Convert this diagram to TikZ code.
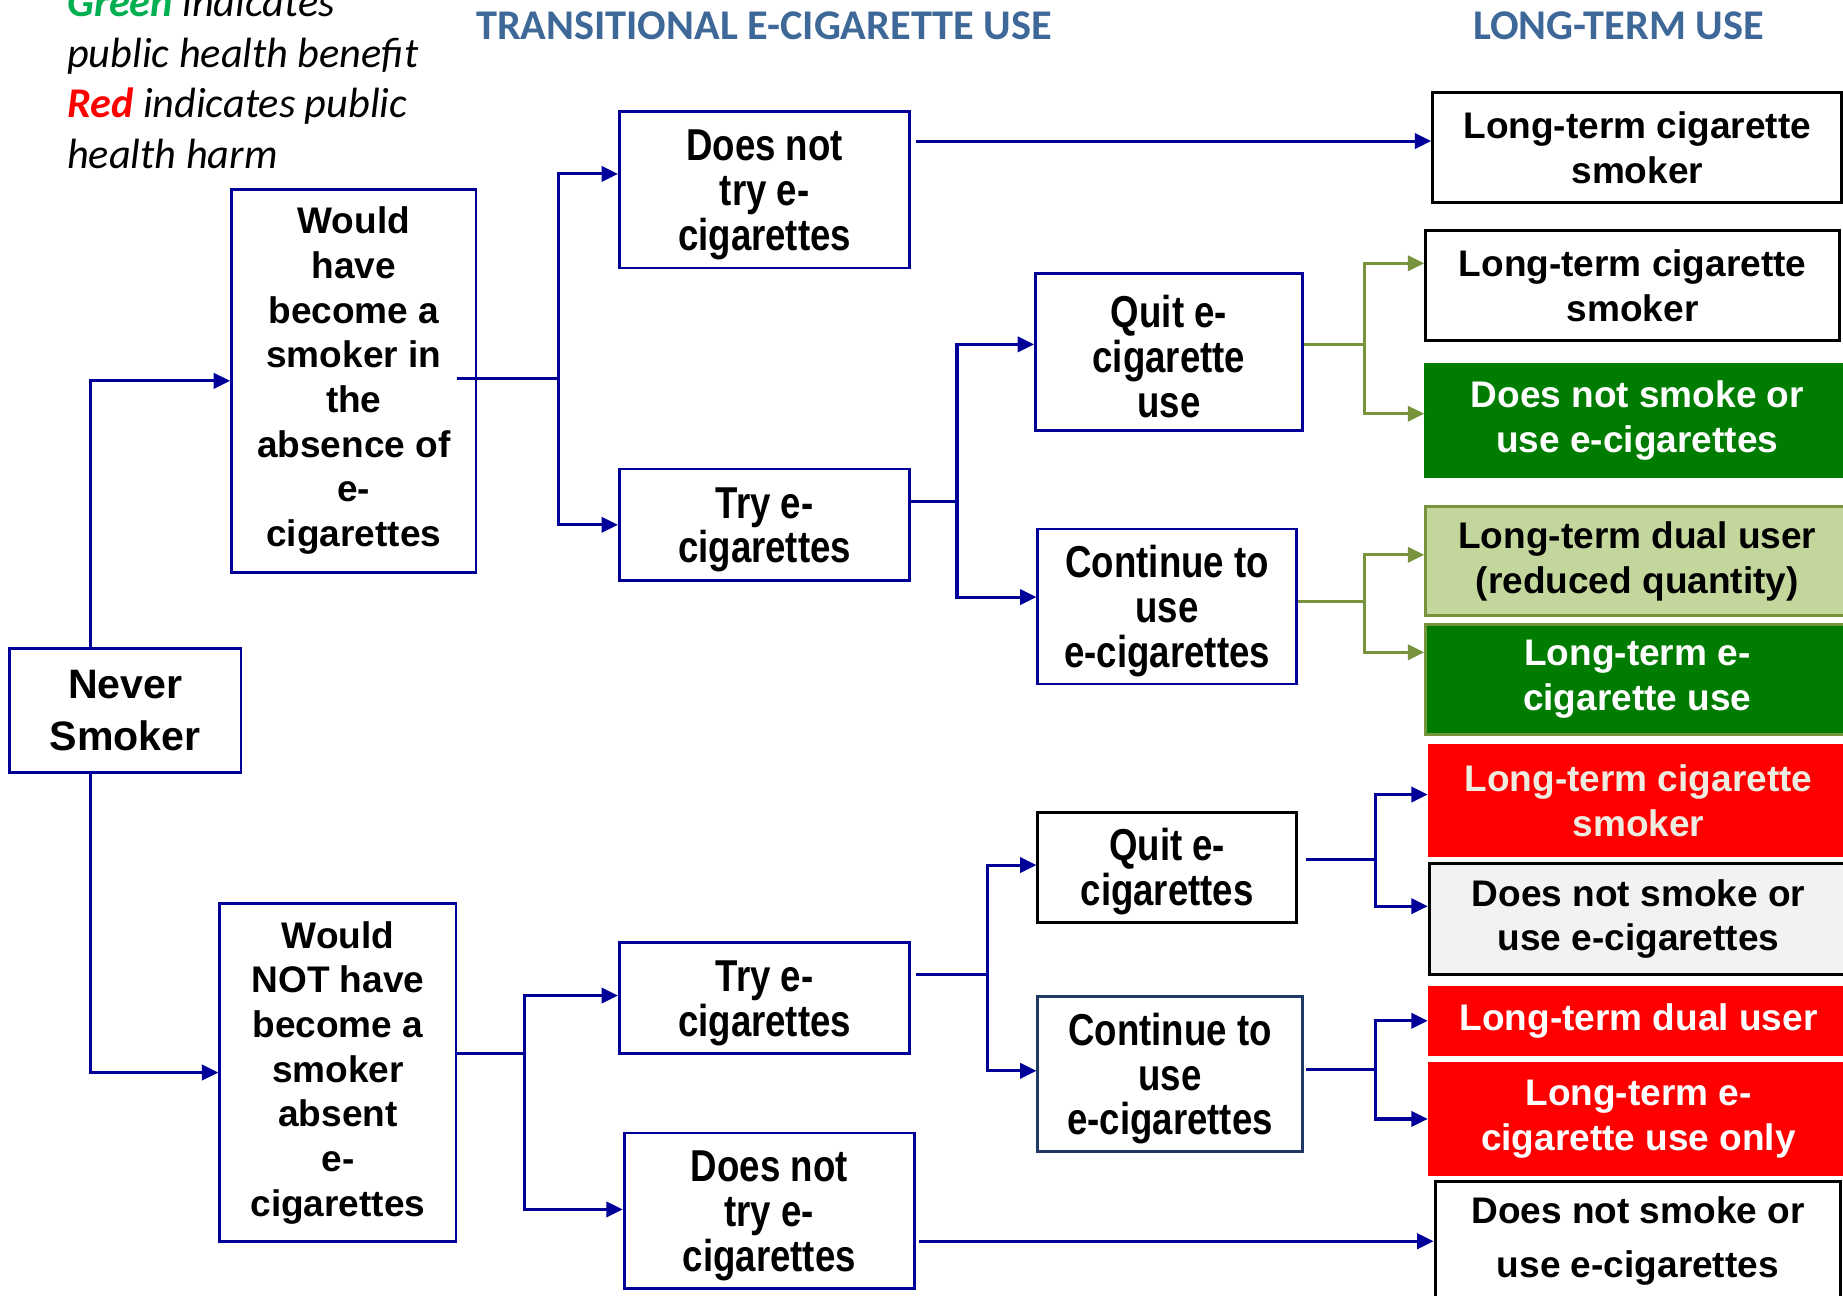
\documentclass[tikz,border=0pt]{standalone}
\usepackage{fontspec}
\setmainfont{Liberation Sans}
\newfontfamily\calibri{Carlito}
\newfontfamily\narrowsans[FakeStretch=0.82]{Liberation Sans}
\usetikzlibrary{arrows.meta, positioning}

\definecolor{linkblue}{RGB}{0,0,153}
\definecolor{olivelink}{RGB}{119,147,60}
\definecolor{benefitgreen}{RGB}{0,125,0}
\definecolor{lightolive}{RGB}{195,214,155}
\definecolor{harmred}{RGB}{255,0,0}
\definecolor{creamtext}{RGB}{238,236,225}
\definecolor{palegray}{RGB}{242,242,242}
\definecolor{headblue}{RGB}{62,104,152}
\definecolor{keygreen}{RGB}{0,176,80}
\definecolor{slateline}{RGB}{31,56,100}

% taller first line, pushes the narrow text a little down
\newcommand{\topgap}{\rule{0pt}{35pt}}

\begin{document}
\begin{tikzpicture}[
x=1pt, y=-1pt,
bluebox/.style={rectangle, draw=linkblue, line width=2.4pt, fill=white, inner sep=0pt, align=center, font=\bfseries\fontsize{31.5}{38}\selectfont},
narrowbox/.style={bluebox, font=\narrowsans\bfseries\fontsize{38}{38}\selectfont},
endbox/.style={rectangle, draw=black, line width=2.6pt, fill=white, inner sep=0pt, align=center, font=\bfseries\fontsize{31.5}{38}\selectfont},
goodbox/.style={endbox, draw=benefitgreen, fill=benefitgreen, text=white},
mixbox/.style={endbox, draw=olivelink, fill=lightolive},
harmbox/.style={endbox, draw=harmred, fill=harmred, text=white},
headtext/.style={font=\calibri\bfseries\fontsize{36}{40}\selectfont, text=headblue, inner sep=0pt},
keytext/.style={font=\calibri\itshape\fontsize{36}{43}\selectfont, align=left, inner sep=0pt},
navyarrow/.style={draw=linkblue, line width=2.6pt, -{Triangle[length=14pt,width=13pt]}},
olivearrow/.style={navyarrow, draw=olivelink, -{Triangle[length=14pt,width=13pt,fill=olivelink]}},
]
\useasboundingbox (0,0) rectangle (1568,1102);

%Headings
\node[keytext, anchor=west] (key) at (57,66.5) {\textbf{\color{keygreen}Green} indicates\\public health benefit\\\textbf{\color{harmred}Red} indicates public\\health harm};
\node[headtext] (transhead) at (650,22) {TRANSITIONAL E-CIGARETTE USE};
\node[headtext] (longhead) at (1377,22) {LONG-TERM USE};

%Nodes
\node[bluebox, minimum width=197pt, minimum height=105pt, font=\bfseries\fontsize{35}{44}\selectfont] (never) at (106.5,604.5) {Never\\Smoker};
\node[bluebox, minimum width=208pt, minimum height=326pt] (wouldhave) at (301,324) {Would\\have\\become a\\smoker in\\the\\absence of\\e-\\cigarettes};
\node[bluebox, minimum width=201pt, minimum height=287pt] (wouldnot) at (287.5,912.5) {Would\\NOT have\\become a\\smoker\\absent\\e-\\cigarettes};

\node[narrowbox, minimum width=247pt, minimum height=133pt] (notrytop) at (650.5,161.5) {\topgap Does not\\try e-\\cigarettes};
\node[narrowbox, minimum width=247pt, minimum height=95pt] (trytop) at (650.5,446.5) {\topgap Try e-\\cigarettes};
\node[narrowbox, minimum width=227pt, minimum height=133pt] (quittop) at (994.5,299.5) {\topgap Quit e-\\cigarette\\use};
\node[narrowbox, minimum width=220pt, minimum height=132pt] (conttop) at (993,516) {\topgap Continue to\\use\\e-cigarettes};

\node[narrowbox, minimum width=247pt, minimum height=94pt] (trybot) at (650.5,849) {\topgap Try e-\\cigarettes};
\node[narrowbox, minimum width=247pt, minimum height=132pt] (notrybot) at (654.5,1030) {\topgap Does not\\try e-\\cigarettes};
\node[narrowbox, draw=black, minimum width=220pt, minimum height=94pt] (quitbot) at (993,738) {\topgap Quit e-\\cigarettes};
\node[narrowbox, draw=slateline, minimum width=225pt, minimum height=132pt] (contbot) at (995.5,914) {\topgap Continue to\\use\\e-cigarettes};

\node[endbox, minimum width=348pt, minimum height=93pt] (smokerA) at (1393,125.5) {Long-term cigarette\\smoker};
\node[endbox, minimum width=352pt, minimum height=94pt] (smokerB) at (1389,243) {Long-term cigarette\\smoker};
\node[goodbox, minimum width=360pt, minimum height=95pt] (quitallA) at (1393,357.5) {Does not smoke or\\use e-cigarettes};
\node[mixbox, minimum width=360pt, minimum height=93pt] (dualA) at (1393,477.5) {Long-term dual user\\(reduced quantity)};
\node[goodbox, draw=olivelink, minimum width=360pt, minimum height=94pt] (ecigA) at (1393,578) {Long-term e-\\cigarette use};
\node[harmbox, text=creamtext, minimum width=356pt, minimum height=94pt] (smokerC) at (1394,681) {Long-term cigarette\\smoker};
\node[endbox, fill=palegray, minimum width=356pt, minimum height=94pt] (quitallB) at (1394,782) {Does not smoke or\\use e-cigarettes};
\node[harmbox, minimum width=356pt, minimum height=57pt] (dualB) at (1394,868.5) {Long-term dual user};
\node[harmbox, minimum width=356pt, minimum height=94pt] (ecigB) at (1394,952) {Long-term e-\\cigarette use only};
\node[endbox, minimum width=345pt, minimum height=102pt, font=\bfseries\fontsize{31.5}{46}\selectfont] (quitallC) at (1393.5,1056) {Does not smoke or\\use e-cigarettes};

%Lines
\draw[navyarrow] ([xshift=-29.5pt]never.north) |- (wouldhave.west);
\draw[navyarrow] ([xshift=-29.5pt]never.south) |- (wouldnot.west);

\draw[navyarrow] ([xshift=-17pt,yshift=2pt]wouldhave.east) -- ++(86,0) |- ([yshift=13.5pt]notrytop.west);
\draw[navyarrow] ([xshift=-17pt,yshift=2pt]wouldhave.east) -- ++(86,0) |- (trytop.west);
\draw[navyarrow] ([xshift=4pt,yshift=41.5pt]notrytop.east) -- ([yshift=41.5pt]notrytop.east -| smokerA.west);

\draw[navyarrow] ([yshift=19.5pt]trytop.east) -- ++(39,0) |- ([yshift=6.5pt]quittop.west);
\draw[navyarrow] ([yshift=19.5pt]trytop.east) -- ++(39,0) |- ([yshift=8pt]conttop.west);

\draw[olivearrow] ([yshift=6.5pt]quittop.east) -- ++(52,0) |- ([yshift=19pt]smokerB.west);
\draw[olivearrow] ([yshift=6.5pt]quittop.east) -- ++(52,0) |- ([yshift=5.5pt]quitallA.west);
\draw[olivearrow] ([yshift=4pt]conttop.east) -- ++(57,0) |- ([yshift=5.5pt]dualA.west);
\draw[olivearrow] ([yshift=4pt]conttop.east) -- ++(57,0) |- ([yshift=23pt]ecigA.west);

\draw[navyarrow] ([yshift=16.5pt]wouldnot.east) -- ++(57,0) |- ([yshift=2pt]trybot.west);
\draw[navyarrow] ([yshift=16.5pt]wouldnot.east) -- ++(57,0) |- ([yshift=1pt]notrybot.west);

\draw[navyarrow] ([xshift=4pt,yshift=20pt]trybot.east) -- ++(61,0) |- ([yshift=2pt]quitbot.west);
\draw[navyarrow] ([xshift=4pt,yshift=20pt]trybot.east) -- ++(61,0) |- ([yshift=3pt]contbot.west);

\draw[navyarrow] ([xshift=7pt,yshift=7pt]quitbot.east) -- ++(59,0) |- ([yshift=5pt]smokerC.west);
\draw[navyarrow] ([xshift=7pt,yshift=7pt]quitbot.east) -- ++(59,0) |- ([yshift=11pt]quitallB.west);
\draw[navyarrow] ([xshift=2pt,yshift=4pt]contbot.east) -- ++(59,0) |- (dualB.west);
\draw[navyarrow] ([xshift=2pt,yshift=4pt]contbot.east) -- ++(59,0) |- (ecigB.west);

\draw[navyarrow] ([xshift=3pt,yshift=-26pt]notrybot.east) -- ([yshift=-26pt]notrybot.east -| quitallC.west);

\end{tikzpicture}
\end{document}
